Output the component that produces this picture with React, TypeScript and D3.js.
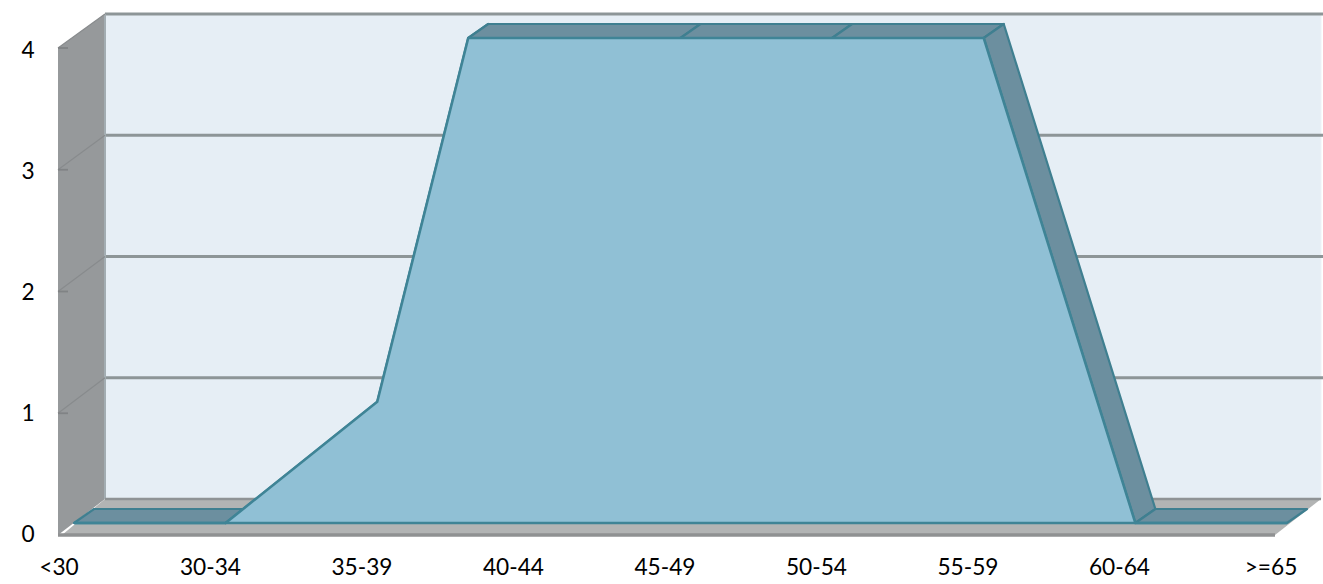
import React from "react";
import * as d3 from "d3";

const categories = ["<30", "30-34", "35-39", "40-44", "45-49", "50-54", "55-59", "60-64", ">=65"];
const values = [0, 0, 1, 6, 4, 4, 4, 0, 0];
const yTicks = [0, 1, 2, 3, 4];
const yMax = 4;

const W = 1323, H = 584;
const FONT = "Lato, Carlito, 'Open Sans', sans-serif";

// three planes of the pseudo-3D box
const xFront = d3.scalePoint<string>().domain(categories).range([74, 1287]);
const xLabel = d3.scalePoint<string>().domain(categories).range([59, 1271]);
const yArea = d3.scaleLinear().domain([0, yMax]).range([523, 38]);
const yWall = d3.scaleLinear().domain([0, yMax]).range([499, 14]);
const ySide = d3.scaleLinear().domain([0, yMax]).range([535, 48]);
const yLabel = d3.scaleLinear().domain([0, yMax]).range([542, 58]);

const wallLeft = 105, wallRight = 1321, sideLeft = 58, floorRight = 1275;
const dx = 20, dy = -14; // extrusion of the area

type Pt = [number, number];

// clip the series at the axis maximum, the way the chart does
const clipped: Pt[] = [];
values.forEach((v, i) => {
  const x = xFront(categories[i])!;
  if (i > 0) {
    const pv = values[i - 1];
    const px = xFront(categories[i - 1])!;
    if ((pv - yMax) * (v - yMax) < 0) {
      const t = (yMax - pv) / (v - pv);
      clipped.push([px + (x - px) * t, yArea(yMax)]);
    }
  }
  if (v <= yMax) clipped.push([x, yArea(v)]);
});

const lineGen = d3.line<Pt>().x((d) => d[0]).y((d) => d[1]);
const areaGen = d3.area<Pt>().x((d) => d[0]).y0(yArea(0)).y1((d) => d[1]);

const poly = (pts: Pt[]) => lineGen(pts)! + "Z";

export default function App() {
  return (
    <svg
      width={W}
      height={H}
      viewBox={`0 0 ${W} ${H}`}
      style={{ position: "absolute", left: 0, top: 0, background: "#fff" }}
    >
      {/* back wall */}
      <rect x={wallLeft} y={yWall(yMax)} width={wallRight - wallLeft} height={yWall(0) - yWall(yMax)} fill="#e6eef5" />
      <line x1={wallRight} x2={wallRight} y1={yWall(yMax)} y2={yWall(0)} stroke="#eef3f7" strokeWidth={1} />
      {/* gridlines on wall */}
      {yTicks.filter((t) => t > 0).map((t) => (
        <line key={t} x1={wallLeft} x2={W} y1={yWall(t)} y2={yWall(t)} stroke="#8d9597" strokeWidth={2.8} />
      ))}
      {/* side wall */}
      <path
        d={poly([[sideLeft, ySide(yMax)], [wallLeft, yWall(yMax)], [wallLeft, yWall(0)], [sideLeft, ySide(0)]])}
        fill="#96999b"
      />
      <line x1={wallLeft} x2={wallLeft} y1={yWall(yMax)} y2={yWall(0)} stroke="#a3adb2" strokeWidth={2} />
      {yTicks.filter((t) => t > 0).map((t) => (
        <g key={t}>
          <line x1={sideLeft} x2={wallLeft} y1={ySide(t)} y2={yWall(t)} stroke="#888b8d" strokeWidth={1.2} />
          <line x1={sideLeft} x2={sideLeft + 10} y1={ySide(t)} y2={ySide(t)} stroke="#808385" strokeWidth={1.8} />
        </g>
      ))}
      {/* floor */}
      <path
        d={poly([[sideLeft + 4, ySide(0)], [wallLeft, yWall(0)], [wallRight, yWall(0)], [floorRight, ySide(0)]])}
        fill="#b2b4b4"
      />
      <line x1={wallLeft} x2={wallRight} y1={yWall(0)} y2={yWall(0)} stroke="#8f9395" strokeWidth={2.5} />
      <line x1={sideLeft} x2={floorRight} y1={ySide(0)} y2={ySide(0)} stroke="#8f9192" strokeWidth={3.5} />

      {/* extruded faces of the area */}
      {d3.pairs(clipped).map(([a, b], i) => (
        <path
          key={i}
          d={poly([a, b, [b[0] + dx, b[1] + dy], [a[0] + dx, a[1] + dy]])}
          fill="#6c8f9f"
          stroke="#3f7f90"
          strokeWidth={2.2}
          strokeLinejoin="round"
        />
      ))}
      {/* front face */}
      <path d={areaGen(clipped)!} fill="#90c0d5" />
      <path d={lineGen(clipped)!} fill="none" stroke="#3f8496" strokeWidth={2.6} strokeLinejoin="round" />
      <line
        x1={xFront(categories[0])!}
        x2={xFront(categories[categories.length - 1])!}
        y1={yArea(0)}
        y2={yArea(0)}
        stroke="#3f8496"
        strokeWidth={2.6}
      />

      {/* y tick labels */}
      {yTicks.map((t) => (
        <text key={t} x={28} y={yLabel(t)} fontFamily={FONT} fontSize={22.7} fill="#000" textAnchor="middle">
          {t}
        </text>
      ))}
      {/* x tick labels */}
      {categories.map((c) => (
        <text key={c} x={xLabel(c)!} y={575} fontFamily={FONT} fontSize={22.7} fill="#000" textAnchor="middle">
          {c}
        </text>
      ))}
    </svg>
  );
}
